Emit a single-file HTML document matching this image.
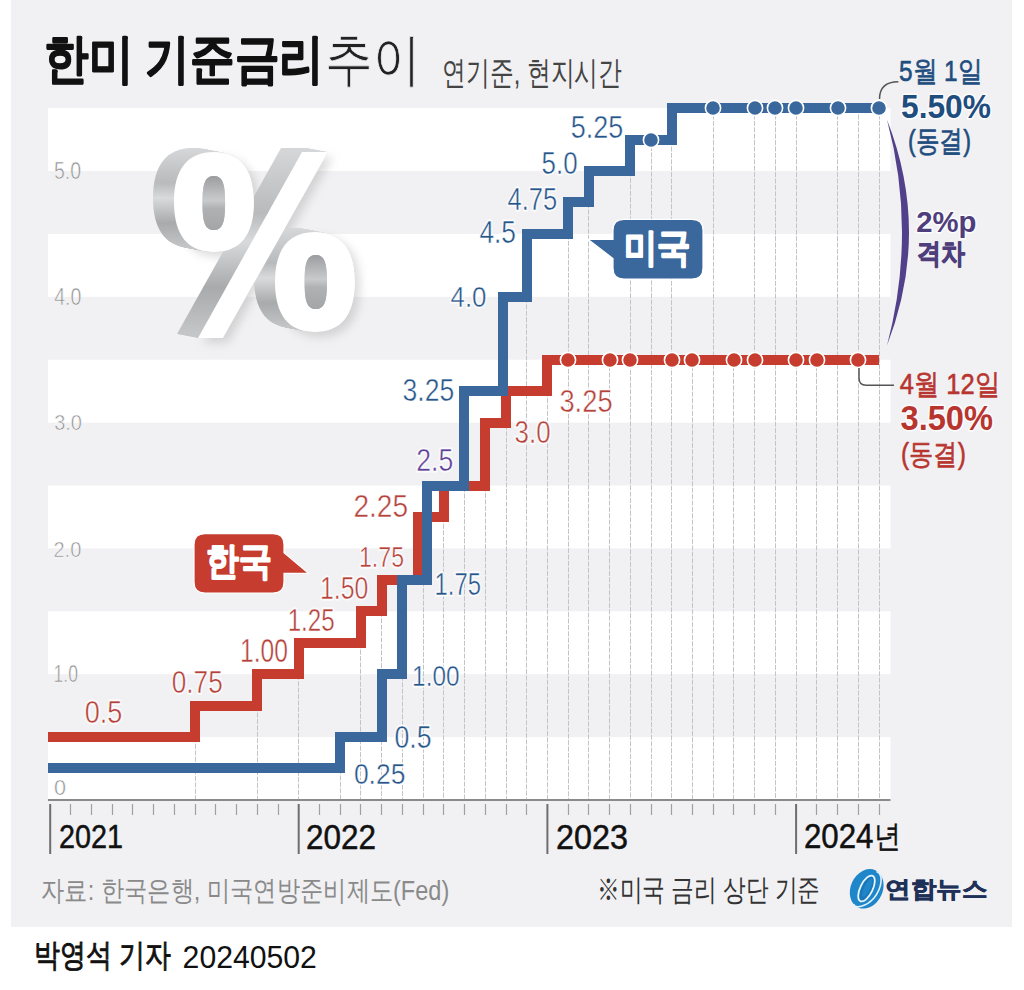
<!DOCTYPE html>
<html><head><meta charset="utf-8">
<style>
html,body{margin:0;padding:0;background:#fff;}
body{width:1024px;height:990px;position:relative;overflow:hidden;font-family:"Liberation Sans",sans-serif;}
svg{position:absolute;left:0;top:0;}
text{font-family:"Liberation Sans",sans-serif;}
.thk{stroke:#111;stroke-width:1.2px;stroke-linejoin:round}.thkw{stroke:#fff;stroke-width:1.6px;stroke-linejoin:round}.thkn{stroke:#1f3158;stroke-width:0.6px}.thkb{stroke:#111;stroke-width:0.5px}.thn{stroke:#f1f1f3;stroke-width:0.8px}
.halo{stroke:#fff;stroke-width:3px;stroke-linejoin:round;paint-order:stroke;stroke-opacity:0.85}
</style></head><body>
<svg width="1024" height="990" viewBox="0 0 1024 990">
<defs>
<linearGradient id="ext" x1="0" y1="0" x2="0" y2="1">
<stop offset="0" stop-color="#d6d7d9"/><stop offset="0.35" stop-color="#b9babc"/><stop offset="0.5" stop-color="#d9dadc"/><stop offset="0.75" stop-color="#a9aaac"/><stop offset="1" stop-color="#c5c6c8"/>
</linearGradient>
<filter id="blur" x="-20%" y="-20%" width="140%" height="140%"><feGaussianBlur stdDeviation="5"/></filter>
<linearGradient id="hole" x1="0" y1="0" x2="0" y2="1"><stop offset="0" stop-color="#9c9da0"/><stop offset="0.45" stop-color="#c9cacc"/><stop offset="0.6" stop-color="#b0b1b3"/><stop offset="1" stop-color="#a4a5a7"/></linearGradient>
</defs>
<!-- panel -->
<rect x="11" y="0" width="1001" height="927" fill="#f1f1f3"/>
<!-- stripes -->
<g fill="#ffffff">
<rect x="48" y="108.1" width="842.5" height="62.9"/>
<rect x="48" y="233.9" width="842.5" height="62.9"/>
<rect x="48" y="359.7" width="842.5" height="62.9"/>
<rect x="48" y="485.5" width="842.5" height="62.9"/>
<rect x="48" y="611.3" width="842.5" height="62.9"/>
<rect x="48" y="737.1" width="842.5" height="62.9"/>
</g>
<!-- y labels -->
<!-- big percent -->
<g id="pct">
<g filter="url(#blur)" opacity="0.35" transform="translate(5,5)" fill="#9a9a9a"><path d="M214.0,152.0 C240.4,152.0 254.0,169.0 254.0,202.0 C254.0,235.0 240.4,252.0 214.0,252.0 C187.6,252.0 174.0,235.0 174.0,202.0 C174.0,169.0 187.6,152.0 214.0,152.0Z"/><path d="M315.0,232.0 C341.4,232.0 355.0,249.0 355.0,282.0 C355.0,315.0 341.4,332.0 315.0,332.0 C288.6,332.0 275.0,315.0 275.0,282.0 C275.0,249.0 288.6,232.0 315.0,232.0Z"/><path d="M302,152 L328,152 L223,338 L198,338 Z"/></g>
<g fill="url(#ext)">
<g transform="translate(-0.00,-0.00)"><path d="M214.0,152.0 C240.4,152.0 254.0,169.0 254.0,202.0 C254.0,235.0 240.4,252.0 214.0,252.0 C187.6,252.0 174.0,235.0 174.0,202.0 C174.0,169.0 187.6,152.0 214.0,152.0Z"/><path d="M315.0,232.0 C341.4,232.0 355.0,249.0 355.0,282.0 C355.0,315.0 341.4,332.0 315.0,332.0 C288.6,332.0 275.0,315.0 275.0,282.0 C275.0,249.0 288.6,232.0 315.0,232.0Z"/><path d="M302,152 L328,152 L223,338 L198,338 Z"/></g>
<g transform="translate(-0.95,-0.18)"><path d="M214.0,152.0 C240.4,152.0 254.0,169.0 254.0,202.0 C254.0,235.0 240.4,252.0 214.0,252.0 C187.6,252.0 174.0,235.0 174.0,202.0 C174.0,169.0 187.6,152.0 214.0,152.0Z"/><path d="M315.0,232.0 C341.4,232.0 355.0,249.0 355.0,282.0 C355.0,315.0 341.4,332.0 315.0,332.0 C288.6,332.0 275.0,315.0 275.0,282.0 C275.0,249.0 288.6,232.0 315.0,232.0Z"/><path d="M302,152 L328,152 L223,338 L198,338 Z"/></g>
<g transform="translate(-1.91,-0.36)"><path d="M214.0,152.0 C240.4,152.0 254.0,169.0 254.0,202.0 C254.0,235.0 240.4,252.0 214.0,252.0 C187.6,252.0 174.0,235.0 174.0,202.0 C174.0,169.0 187.6,152.0 214.0,152.0Z"/><path d="M315.0,232.0 C341.4,232.0 355.0,249.0 355.0,282.0 C355.0,315.0 341.4,332.0 315.0,332.0 C288.6,332.0 275.0,315.0 275.0,282.0 C275.0,249.0 288.6,232.0 315.0,232.0Z"/><path d="M302,152 L328,152 L223,338 L198,338 Z"/></g>
<g transform="translate(-2.86,-0.55)"><path d="M214.0,152.0 C240.4,152.0 254.0,169.0 254.0,202.0 C254.0,235.0 240.4,252.0 214.0,252.0 C187.6,252.0 174.0,235.0 174.0,202.0 C174.0,169.0 187.6,152.0 214.0,152.0Z"/><path d="M315.0,232.0 C341.4,232.0 355.0,249.0 355.0,282.0 C355.0,315.0 341.4,332.0 315.0,332.0 C288.6,332.0 275.0,315.0 275.0,282.0 C275.0,249.0 288.6,232.0 315.0,232.0Z"/><path d="M302,152 L328,152 L223,338 L198,338 Z"/></g>
<g transform="translate(-3.82,-0.73)"><path d="M214.0,152.0 C240.4,152.0 254.0,169.0 254.0,202.0 C254.0,235.0 240.4,252.0 214.0,252.0 C187.6,252.0 174.0,235.0 174.0,202.0 C174.0,169.0 187.6,152.0 214.0,152.0Z"/><path d="M315.0,232.0 C341.4,232.0 355.0,249.0 355.0,282.0 C355.0,315.0 341.4,332.0 315.0,332.0 C288.6,332.0 275.0,315.0 275.0,282.0 C275.0,249.0 288.6,232.0 315.0,232.0Z"/><path d="M302,152 L328,152 L223,338 L198,338 Z"/></g>
<g transform="translate(-4.77,-0.91)"><path d="M214.0,152.0 C240.4,152.0 254.0,169.0 254.0,202.0 C254.0,235.0 240.4,252.0 214.0,252.0 C187.6,252.0 174.0,235.0 174.0,202.0 C174.0,169.0 187.6,152.0 214.0,152.0Z"/><path d="M315.0,232.0 C341.4,232.0 355.0,249.0 355.0,282.0 C355.0,315.0 341.4,332.0 315.0,332.0 C288.6,332.0 275.0,315.0 275.0,282.0 C275.0,249.0 288.6,232.0 315.0,232.0Z"/><path d="M302,152 L328,152 L223,338 L198,338 Z"/></g>
<g transform="translate(-5.73,-1.09)"><path d="M214.0,152.0 C240.4,152.0 254.0,169.0 254.0,202.0 C254.0,235.0 240.4,252.0 214.0,252.0 C187.6,252.0 174.0,235.0 174.0,202.0 C174.0,169.0 187.6,152.0 214.0,152.0Z"/><path d="M315.0,232.0 C341.4,232.0 355.0,249.0 355.0,282.0 C355.0,315.0 341.4,332.0 315.0,332.0 C288.6,332.0 275.0,315.0 275.0,282.0 C275.0,249.0 288.6,232.0 315.0,232.0Z"/><path d="M302,152 L328,152 L223,338 L198,338 Z"/></g>
<g transform="translate(-6.68,-1.27)"><path d="M214.0,152.0 C240.4,152.0 254.0,169.0 254.0,202.0 C254.0,235.0 240.4,252.0 214.0,252.0 C187.6,252.0 174.0,235.0 174.0,202.0 C174.0,169.0 187.6,152.0 214.0,152.0Z"/><path d="M315.0,232.0 C341.4,232.0 355.0,249.0 355.0,282.0 C355.0,315.0 341.4,332.0 315.0,332.0 C288.6,332.0 275.0,315.0 275.0,282.0 C275.0,249.0 288.6,232.0 315.0,232.0Z"/><path d="M302,152 L328,152 L223,338 L198,338 Z"/></g>
<g transform="translate(-7.64,-1.45)"><path d="M214.0,152.0 C240.4,152.0 254.0,169.0 254.0,202.0 C254.0,235.0 240.4,252.0 214.0,252.0 C187.6,252.0 174.0,235.0 174.0,202.0 C174.0,169.0 187.6,152.0 214.0,152.0Z"/><path d="M315.0,232.0 C341.4,232.0 355.0,249.0 355.0,282.0 C355.0,315.0 341.4,332.0 315.0,332.0 C288.6,332.0 275.0,315.0 275.0,282.0 C275.0,249.0 288.6,232.0 315.0,232.0Z"/><path d="M302,152 L328,152 L223,338 L198,338 Z"/></g>
<g transform="translate(-8.59,-1.64)"><path d="M214.0,152.0 C240.4,152.0 254.0,169.0 254.0,202.0 C254.0,235.0 240.4,252.0 214.0,252.0 C187.6,252.0 174.0,235.0 174.0,202.0 C174.0,169.0 187.6,152.0 214.0,152.0Z"/><path d="M315.0,232.0 C341.4,232.0 355.0,249.0 355.0,282.0 C355.0,315.0 341.4,332.0 315.0,332.0 C288.6,332.0 275.0,315.0 275.0,282.0 C275.0,249.0 288.6,232.0 315.0,232.0Z"/><path d="M302,152 L328,152 L223,338 L198,338 Z"/></g>
<g transform="translate(-9.55,-1.82)"><path d="M214.0,152.0 C240.4,152.0 254.0,169.0 254.0,202.0 C254.0,235.0 240.4,252.0 214.0,252.0 C187.6,252.0 174.0,235.0 174.0,202.0 C174.0,169.0 187.6,152.0 214.0,152.0Z"/><path d="M315.0,232.0 C341.4,232.0 355.0,249.0 355.0,282.0 C355.0,315.0 341.4,332.0 315.0,332.0 C288.6,332.0 275.0,315.0 275.0,282.0 C275.0,249.0 288.6,232.0 315.0,232.0Z"/><path d="M302,152 L328,152 L223,338 L198,338 Z"/></g>
<g transform="translate(-10.50,-2.00)"><path d="M214.0,152.0 C240.4,152.0 254.0,169.0 254.0,202.0 C254.0,235.0 240.4,252.0 214.0,252.0 C187.6,252.0 174.0,235.0 174.0,202.0 C174.0,169.0 187.6,152.0 214.0,152.0Z"/><path d="M315.0,232.0 C341.4,232.0 355.0,249.0 355.0,282.0 C355.0,315.0 341.4,332.0 315.0,332.0 C288.6,332.0 275.0,315.0 275.0,282.0 C275.0,249.0 288.6,232.0 315.0,232.0Z"/><path d="M302,152 L328,152 L223,338 L198,338 Z"/></g>
<g transform="translate(-11.45,-2.18)"><path d="M214.0,152.0 C240.4,152.0 254.0,169.0 254.0,202.0 C254.0,235.0 240.4,252.0 214.0,252.0 C187.6,252.0 174.0,235.0 174.0,202.0 C174.0,169.0 187.6,152.0 214.0,152.0Z"/><path d="M315.0,232.0 C341.4,232.0 355.0,249.0 355.0,282.0 C355.0,315.0 341.4,332.0 315.0,332.0 C288.6,332.0 275.0,315.0 275.0,282.0 C275.0,249.0 288.6,232.0 315.0,232.0Z"/><path d="M302,152 L328,152 L223,338 L198,338 Z"/></g>
<g transform="translate(-12.41,-2.36)"><path d="M214.0,152.0 C240.4,152.0 254.0,169.0 254.0,202.0 C254.0,235.0 240.4,252.0 214.0,252.0 C187.6,252.0 174.0,235.0 174.0,202.0 C174.0,169.0 187.6,152.0 214.0,152.0Z"/><path d="M315.0,232.0 C341.4,232.0 355.0,249.0 355.0,282.0 C355.0,315.0 341.4,332.0 315.0,332.0 C288.6,332.0 275.0,315.0 275.0,282.0 C275.0,249.0 288.6,232.0 315.0,232.0Z"/><path d="M302,152 L328,152 L223,338 L198,338 Z"/></g>
<g transform="translate(-13.36,-2.55)"><path d="M214.0,152.0 C240.4,152.0 254.0,169.0 254.0,202.0 C254.0,235.0 240.4,252.0 214.0,252.0 C187.6,252.0 174.0,235.0 174.0,202.0 C174.0,169.0 187.6,152.0 214.0,152.0Z"/><path d="M315.0,232.0 C341.4,232.0 355.0,249.0 355.0,282.0 C355.0,315.0 341.4,332.0 315.0,332.0 C288.6,332.0 275.0,315.0 275.0,282.0 C275.0,249.0 288.6,232.0 315.0,232.0Z"/><path d="M302,152 L328,152 L223,338 L198,338 Z"/></g>
<g transform="translate(-14.32,-2.73)"><path d="M214.0,152.0 C240.4,152.0 254.0,169.0 254.0,202.0 C254.0,235.0 240.4,252.0 214.0,252.0 C187.6,252.0 174.0,235.0 174.0,202.0 C174.0,169.0 187.6,152.0 214.0,152.0Z"/><path d="M315.0,232.0 C341.4,232.0 355.0,249.0 355.0,282.0 C355.0,315.0 341.4,332.0 315.0,332.0 C288.6,332.0 275.0,315.0 275.0,282.0 C275.0,249.0 288.6,232.0 315.0,232.0Z"/><path d="M302,152 L328,152 L223,338 L198,338 Z"/></g>
<g transform="translate(-15.27,-2.91)"><path d="M214.0,152.0 C240.4,152.0 254.0,169.0 254.0,202.0 C254.0,235.0 240.4,252.0 214.0,252.0 C187.6,252.0 174.0,235.0 174.0,202.0 C174.0,169.0 187.6,152.0 214.0,152.0Z"/><path d="M315.0,232.0 C341.4,232.0 355.0,249.0 355.0,282.0 C355.0,315.0 341.4,332.0 315.0,332.0 C288.6,332.0 275.0,315.0 275.0,282.0 C275.0,249.0 288.6,232.0 315.0,232.0Z"/><path d="M302,152 L328,152 L223,338 L198,338 Z"/></g>
<g transform="translate(-16.23,-3.09)"><path d="M214.0,152.0 C240.4,152.0 254.0,169.0 254.0,202.0 C254.0,235.0 240.4,252.0 214.0,252.0 C187.6,252.0 174.0,235.0 174.0,202.0 C174.0,169.0 187.6,152.0 214.0,152.0Z"/><path d="M315.0,232.0 C341.4,232.0 355.0,249.0 355.0,282.0 C355.0,315.0 341.4,332.0 315.0,332.0 C288.6,332.0 275.0,315.0 275.0,282.0 C275.0,249.0 288.6,232.0 315.0,232.0Z"/><path d="M302,152 L328,152 L223,338 L198,338 Z"/></g>
<g transform="translate(-17.18,-3.27)"><path d="M214.0,152.0 C240.4,152.0 254.0,169.0 254.0,202.0 C254.0,235.0 240.4,252.0 214.0,252.0 C187.6,252.0 174.0,235.0 174.0,202.0 C174.0,169.0 187.6,152.0 214.0,152.0Z"/><path d="M315.0,232.0 C341.4,232.0 355.0,249.0 355.0,282.0 C355.0,315.0 341.4,332.0 315.0,332.0 C288.6,332.0 275.0,315.0 275.0,282.0 C275.0,249.0 288.6,232.0 315.0,232.0Z"/><path d="M302,152 L328,152 L223,338 L198,338 Z"/></g>
<g transform="translate(-18.14,-3.45)"><path d="M214.0,152.0 C240.4,152.0 254.0,169.0 254.0,202.0 C254.0,235.0 240.4,252.0 214.0,252.0 C187.6,252.0 174.0,235.0 174.0,202.0 C174.0,169.0 187.6,152.0 214.0,152.0Z"/><path d="M315.0,232.0 C341.4,232.0 355.0,249.0 355.0,282.0 C355.0,315.0 341.4,332.0 315.0,332.0 C288.6,332.0 275.0,315.0 275.0,282.0 C275.0,249.0 288.6,232.0 315.0,232.0Z"/><path d="M302,152 L328,152 L223,338 L198,338 Z"/></g>
<g transform="translate(-19.09,-3.64)"><path d="M214.0,152.0 C240.4,152.0 254.0,169.0 254.0,202.0 C254.0,235.0 240.4,252.0 214.0,252.0 C187.6,252.0 174.0,235.0 174.0,202.0 C174.0,169.0 187.6,152.0 214.0,152.0Z"/><path d="M315.0,232.0 C341.4,232.0 355.0,249.0 355.0,282.0 C355.0,315.0 341.4,332.0 315.0,332.0 C288.6,332.0 275.0,315.0 275.0,282.0 C275.0,249.0 288.6,232.0 315.0,232.0Z"/><path d="M302,152 L328,152 L223,338 L198,338 Z"/></g>
<g transform="translate(-20.05,-3.82)"><path d="M214.0,152.0 C240.4,152.0 254.0,169.0 254.0,202.0 C254.0,235.0 240.4,252.0 214.0,252.0 C187.6,252.0 174.0,235.0 174.0,202.0 C174.0,169.0 187.6,152.0 214.0,152.0Z"/><path d="M315.0,232.0 C341.4,232.0 355.0,249.0 355.0,282.0 C355.0,315.0 341.4,332.0 315.0,332.0 C288.6,332.0 275.0,315.0 275.0,282.0 C275.0,249.0 288.6,232.0 315.0,232.0Z"/><path d="M302,152 L328,152 L223,338 L198,338 Z"/></g>
<g transform="translate(-21.00,-4.00)"><path d="M214.0,152.0 C240.4,152.0 254.0,169.0 254.0,202.0 C254.0,235.0 240.4,252.0 214.0,252.0 C187.6,252.0 174.0,235.0 174.0,202.0 C174.0,169.0 187.6,152.0 214.0,152.0Z"/><path d="M315.0,232.0 C341.4,232.0 355.0,249.0 355.0,282.0 C355.0,315.0 341.4,332.0 315.0,332.0 C288.6,332.0 275.0,315.0 275.0,282.0 C275.0,249.0 288.6,232.0 315.0,232.0Z"/><path d="M302,152 L328,152 L223,338 L198,338 Z"/></g>
</g>
<path fill="#fff" fill-rule="evenodd" d="M214.0,152.0 C240.4,152.0 254.0,169.0 254.0,202.0 C254.0,235.0 240.4,252.0 214.0,252.0 C187.6,252.0 174.0,235.0 174.0,202.0 C174.0,169.0 187.6,152.0 214.0,152.0Z M213.8,176.0 C222.3,176.0 225.1,182.8 225.1,203.0 C225.1,223.2 222.3,230.0 213.8,230.0 C205.3,230.0 202.5,223.2 202.5,203.0 C202.5,182.8 205.3,176.0 213.8,176.0Z"/>
<path fill="#fff" fill-rule="evenodd" d="M315.0,232.0 C341.4,232.0 355.0,249.0 355.0,282.0 C355.0,315.0 341.4,332.0 315.0,332.0 C288.6,332.0 275.0,315.0 275.0,282.0 C275.0,249.0 288.6,232.0 315.0,232.0Z M315.8,255.0 C324.2,255.0 327.0,261.8 327.0,282.0 C327.0,302.2 324.2,309.0 315.8,309.0 C307.4,309.0 304.6,302.2 304.6,282.0 C304.6,261.8 307.4,255.0 315.8,255.0Z"/>
<path fill="#fff" d="M302,152 L328,152 L223,338 L198,338 Z"/>
<path fill="url(#hole)" d="M213.8,176.0 C222.3,176.0 225.1,182.8 225.1,203.0 C225.1,223.2 222.3,230.0 213.8,230.0 C205.3,230.0 202.5,223.2 202.5,203.0 C202.5,182.8 205.3,176.0 213.8,176.0Z"/>
<path fill="url(#hole)" d="M315.8,255.0 C324.2,255.0 327.0,261.8 327.0,282.0 C327.0,302.2 324.2,309.0 315.8,309.0 C307.4,309.0 304.6,302.2 304.6,282.0 C304.6,261.8 307.4,255.0 315.8,255.0Z"/>
</g>
<!-- gridlines -->
<path d="M195.5,705.6V800 M257.5,674.2V800 M298.5,642.8V800 M340.5,737.1V800 M360.5,611.3V800 M381.5,579.9V800 M402.5,579.9V800 M423.5,485.5V800 M443.5,485.5V800 M464.5,391.2V800 M485.5,422.6V800 M506.5,296.8V800 M526.5,233.9V800 M547.5,359.7V800 M568.5,202.5V800 M588.5,171.0V800 M609.5,359.7V800 M630.5,139.6V800 M651.5,139.6V800 M671.5,108.1V800 M692.5,359.7V800 M713.5,108.1V800 M733.5,359.7V800 M754.5,108.1V800 M775.5,108.1V800 M796.5,108.1V800 M816.5,359.7V800 M837.5,108.1V800 M858.5,108.1V800 M879.5,108.1V800" stroke="#c4c4c8" stroke-width="1" stroke-dasharray="5 1.4" fill="none"/>
<!-- axis -->
<path d="M48,800H890.5" stroke="#8a8a8a" stroke-width="2" fill="none"/>
<path d="M70.5,804V815 M91.5,804V815 M112.5,804V815 M132.5,804V815 M153.5,804V815 M174.5,804V815 M195.5,804V815 M215.5,804V815 M236.5,804V815 M257.5,804V815 M278.5,804V815 M319.5,804V815 M340.5,804V815 M360.5,804V815 M381.5,804V815 M402.5,804V815 M423.5,804V815 M443.5,804V815 M464.5,804V815 M485.5,804V815 M506.5,804V815 M526.5,804V815 M568.5,804V815 M588.5,804V815 M609.5,804V815 M630.5,804V815 M651.5,804V815 M671.5,804V815 M692.5,804V815 M713.5,804V815 M733.5,804V815 M754.5,804V815 M775.5,804V815 M816.5,804V815 M837.5,804V815 M858.5,804V815 M879.5,804V815" stroke="#a0a0a0" stroke-width="1.2" fill="none"/>
<path d="M50.2,804V854 M298.7,804V854 M547.4,804V854 M796.1,804V854" stroke="#6e6e6e" stroke-width="2" fill="none"/>
<!-- lines -->
<path d="M48,737 H195 V706 H257 V674 H299 V643 H361 V611 H382 V580 H418 V517 H444 V486 H485 V423 H506 V391 H547 V360 H879" stroke="#c63c2e" stroke-width="10" fill="none" stroke-linejoin="miter"/>
<path d="M48,768 H340 V737 H382 V674 H402 V580 H427 V486 H464 V391 H503 V297 H527 V234 H568 V202 H589 V171 H630 V140 H672 V108 H879" stroke="#3a679c" stroke-width="10" fill="none" stroke-linejoin="miter"/>
<!-- dots -->
<g fill="#c63c2e" stroke="#fff" stroke-width="1.6">
<circle cx="568" cy="360" r="7.6"/><circle cx="610" cy="360" r="7.6"/><circle cx="630" cy="360" r="7.6"/><circle cx="672" cy="360" r="7.6"/><circle cx="692" cy="360" r="7.6"/><circle cx="734" cy="360" r="7.6"/><circle cx="755" cy="360" r="7.6"/><circle cx="796" cy="360" r="7.6"/><circle cx="817" cy="360" r="7.6"/><circle cx="858" cy="360" r="7.6"/>
</g>
<g fill="#3a679c" stroke="#fff" stroke-width="1.6">
<circle cx="651" cy="140" r="7.6"/><circle cx="713" cy="108" r="7.6"/><circle cx="755" cy="108" r="7.6"/><circle cx="775" cy="108" r="7.6"/><circle cx="796" cy="108" r="7.6"/><circle cx="838" cy="108" r="7.6"/><circle cx="879" cy="108" r="7.6"/>
</g>
<!-- value labels red -->
<!-- bubbles -->
<g id="bubbles">
<path d="M624,219.3 H692 Q703,219.3 703,230.3 V268 Q703,279 692,279 H624 Q613,279 613,268 V258.5 L588.2,239.4 H613 V230.3 Q613,219.3 624,219.3 Z" fill="#3a679c" stroke="#fff" stroke-width="1.2"/>
<path d="M205,533.7 H273 Q284,533.7 284,544.7 V552.8 L308.5,573.3 H284 V582 Q284,593 273,593 H205 Q194,593 194,582 V544.7 Q194,533.7 205,533.7 Z" fill="#c63c2e" stroke="#fff" stroke-width="1.2"/>
</g>
<!-- right annotations -->
<path d="M879.5,99 C879.5,88 886,81.7 898.4,81.7" stroke="#555" stroke-width="1.5" fill="none"/>
<path d="M859,368 V378 Q859,385.2 866,385.2 H894" stroke="#555" stroke-width="1.5" fill="none"/>
<path d="M887,119.7 Q931,232 887,345.4 Q917,232 887,119.7 Z" fill="#52418a"/>
<!-- title -->
<!-- footer -->
<g id="logo">
<ellipse cx="866.7" cy="888.8" rx="20.5" ry="16" transform="rotate(-65 866.7 888.8)" fill="#1f87c9"/>
<path d="M876.5,871.5 C884,874 882,888 874,898 C866,907 855,909 853.5,904" fill="none" stroke="#dff1fc" stroke-width="1.6"/>
<ellipse cx="866.5" cy="888.5" rx="14" ry="6.2" transform="rotate(-64 866.5 888.5)" fill="#1a78b8" stroke="#e8f6ff" stroke-width="1.8"/>
<ellipse cx="867.3" cy="887.8" rx="10" ry="3" transform="rotate(-64 867.3 887.8)" fill="#1f87c9"/>
</g>
<text id="title" x="44.00" y="77.47" fill="#111" font-size="52.85" font-weight="900" class="thk" textLength="279.80" lengthAdjust="spacingAndGlyphs">한미 기준금리</text>
<text id="chui" x="325.20" y="78.87" fill="#222" font-size="56.99" font-weight="300" class="thn" textLength="95.40" lengthAdjust="spacingAndGlyphs">추이</text>
<text id="sub" x="442.30" y="83.78" fill="#444" font-size="32.91" textLength="179.80" lengthAdjust="spacingAndGlyphs">연기준, 현지시간</text>
<defs><text id="y50" x="53.90" y="179.31" font-size="24.54" textLength="27.10" lengthAdjust="spacingAndGlyphs">5.0</text></defs>
<use href="#y50" fill="#8e8e8e"/>
<use href="#y50" fill="none" stroke="#f9f9fa" stroke-width="0.6"/>
<defs><text id="y40" x="54.20" y="304.76" font-size="23.91" textLength="27.20" lengthAdjust="spacingAndGlyphs">4.0</text></defs>
<use href="#y40" fill="#8e8e8e"/>
<use href="#y40" fill="none" stroke="#f9f9fa" stroke-width="0.6"/>
<defs><text id="y30" x="54.20" y="430.07" font-size="22.63" textLength="27.80" lengthAdjust="spacingAndGlyphs">3.0</text></defs>
<use href="#y30" fill="#8e8e8e"/>
<use href="#y30" fill="none" stroke="#f9f9fa" stroke-width="0.6"/>
<defs><text id="y20" x="53.50" y="557.16" font-size="22.63" textLength="27.80" lengthAdjust="spacingAndGlyphs">2.0</text></defs>
<use href="#y20" fill="#8e8e8e"/>
<use href="#y20" fill="none" stroke="#f9f9fa" stroke-width="0.6"/>
<defs><text id="y10" x="53.50" y="682.25" font-size="23.91" textLength="24.50" lengthAdjust="spacingAndGlyphs">1.0</text></defs>
<use href="#y10" fill="#8e8e8e"/>
<use href="#y10" fill="none" stroke="#f9f9fa" stroke-width="0.6"/>
<defs><text id="y0" x="54.00" y="795.18" font-size="22.63" textLength="12.00" lengthAdjust="spacingAndGlyphs">0</text></defs>
<use href="#y0" fill="#8e8e8e"/>
<use href="#y0" fill="none" stroke="#f9f9fa" stroke-width="0.6"/>
<text id="yr21" x="59.00" y="847.99" fill="#111" font-size="33.88" style="stroke:#111;stroke-width:0.5px;stroke-linejoin:round" textLength="64.00" lengthAdjust="spacingAndGlyphs">2021</text>
<text id="yr22" x="306.00" y="848.99" fill="#111" font-size="35.30" style="stroke:#111;stroke-width:0.5px;stroke-linejoin:round" textLength="70.00" lengthAdjust="spacingAndGlyphs">2022</text>
<text id="yr23" x="556.00" y="848.99" fill="#111" font-size="35.30" style="stroke:#111;stroke-width:0.5px;stroke-linejoin:round" textLength="72.00" lengthAdjust="spacingAndGlyphs">2023</text>
<text id="yr24" x="803.90" y="848.38" fill="#111" font-size="34.94" style="stroke:#111;stroke-width:0.5px;stroke-linejoin:round" textLength="69.60" lengthAdjust="spacingAndGlyphs">2024</text>
<text id="yr24n" x="874.00" y="846.64" fill="#111" font-size="30.61" style="stroke:#111;stroke-width:0.4px;stroke-linejoin:round" textLength="26.90" lengthAdjust="spacingAndGlyphs">년</text>
<defs><text id="r05" x="84.80" y="723.35" font-size="30.79" textLength="37.60" lengthAdjust="spacingAndGlyphs">0.5</text></defs>
<use href="#r05" fill="#b4413a" class="halo"/>
<use href="#r05" fill="none" stroke="#fff" stroke-width="0.45"/>
<defs><text id="r075" x="171.80" y="692.63" font-size="30.58" textLength="50.90" lengthAdjust="spacingAndGlyphs">0.75</text></defs>
<use href="#r075" fill="#b4413a" class="halo"/>
<use href="#r075" fill="none" stroke="#fff" stroke-width="0.45"/>
<defs><text id="r100" x="240.00" y="661.96" font-size="32.58" textLength="47.90" lengthAdjust="spacingAndGlyphs">1.00</text></defs>
<use href="#r100" fill="#b4413a" class="halo"/>
<use href="#r100" fill="none" stroke="#fff" stroke-width="0.45"/>
<defs><text id="r125" x="287.70" y="630.82" font-size="31.82" textLength="47.00" lengthAdjust="spacingAndGlyphs">1.25</text></defs>
<use href="#r125" fill="#b4413a" class="halo"/>
<use href="#r125" fill="none" stroke="#fff" stroke-width="0.45"/>
<defs><text id="r150" x="320.00" y="598.69" font-size="30.44" textLength="48.30" lengthAdjust="spacingAndGlyphs">1.50</text></defs>
<use href="#r150" fill="#b4413a" class="halo"/>
<use href="#r150" fill="none" stroke="#fff" stroke-width="0.45"/>
<defs><text id="r175" x="359.00" y="567.00" font-size="28.63" textLength="45.00" lengthAdjust="spacingAndGlyphs">1.75</text></defs>
<use href="#r175" fill="#b4413a" class="halo"/>
<use href="#r175" fill="none" stroke="#fff" stroke-width="0.45"/>
<defs><text id="r225" x="353.40" y="516.69" font-size="30.44" textLength="54.60" lengthAdjust="spacingAndGlyphs">2.25</text></defs>
<use href="#r225" fill="#b4413a" class="halo"/>
<use href="#r225" fill="none" stroke="#fff" stroke-width="0.45"/>
<defs><text id="r30" x="514.60" y="443.49" font-size="30.44" textLength="36.00" lengthAdjust="spacingAndGlyphs">3.0</text></defs>
<use href="#r30" fill="#b4413a" class="halo"/>
<use href="#r30" fill="none" stroke="#fff" stroke-width="0.45"/>
<defs><text id="r325" x="559.40" y="412.44" font-size="30.53" textLength="53.20" lengthAdjust="spacingAndGlyphs">3.25</text></defs>
<use href="#r325" fill="#b4413a" class="halo"/>
<use href="#r325" fill="none" stroke="#fff" stroke-width="0.45"/>
<defs><text id="p25" x="416.20" y="471.43" font-size="31.82" textLength="37.00" lengthAdjust="spacingAndGlyphs">2.5</text></defs>
<use href="#p25" fill="#5e3f95" class="halo"/>
<use href="#p25" fill="none" stroke="#fff" stroke-width="0.45"/>
<defs><text id="b025" x="353.90" y="784.00" font-size="29.90" textLength="51.50" lengthAdjust="spacingAndGlyphs">0.25</text></defs>
<use href="#b025" fill="#26558a" class="halo"/>
<use href="#b025" fill="none" stroke="#fff" stroke-width="0.45"/>
<defs><text id="b05" x="394.40" y="748.18" font-size="31.82" textLength="37.10" lengthAdjust="spacingAndGlyphs">0.5</text></defs>
<use href="#b05" fill="#26558a" class="halo"/>
<use href="#b05" fill="none" stroke="#fff" stroke-width="0.45"/>
<defs><text id="b100" x="412.10" y="686.00" font-size="29.90" textLength="47.50" lengthAdjust="spacingAndGlyphs">1.00</text></defs>
<use href="#b100" fill="#26558a" class="halo"/>
<use href="#b100" fill="none" stroke="#fff" stroke-width="0.45"/>
<defs><text id="b175" x="434.50" y="594.83" font-size="30.89" textLength="46.50" lengthAdjust="spacingAndGlyphs">1.75</text></defs>
<use href="#b175" fill="#26558a" class="halo"/>
<use href="#b175" fill="none" stroke="#fff" stroke-width="0.45"/>
<defs><text id="b325" x="402.60" y="401.43" font-size="31.82" textLength="51.60" lengthAdjust="spacingAndGlyphs">3.25</text></defs>
<use href="#b325" fill="#26558a" class="halo"/>
<use href="#b325" fill="none" stroke="#fff" stroke-width="0.45"/>
<defs><text id="b40" x="450.50" y="307.00" font-size="29.65" textLength="36.00" lengthAdjust="spacingAndGlyphs">4.0</text></defs>
<use href="#b40" fill="#26558a" class="halo"/>
<use href="#b40" fill="none" stroke="#fff" stroke-width="0.45"/>
<defs><text id="b45" x="479.40" y="242.82" font-size="31.82" textLength="36.60" lengthAdjust="spacingAndGlyphs">4.5</text></defs>
<use href="#b45" fill="#26558a" class="halo"/>
<use href="#b45" fill="none" stroke="#fff" stroke-width="0.45"/>
<defs><text id="b475" x="507.50" y="209.71" font-size="31.82" textLength="49.70" lengthAdjust="spacingAndGlyphs">4.75</text></defs>
<use href="#b475" fill="#26558a" class="halo"/>
<use href="#b475" fill="none" stroke="#fff" stroke-width="0.45"/>
<defs><text id="b50" x="541.60" y="173.84" font-size="30.64" textLength="36.00" lengthAdjust="spacingAndGlyphs">5.0</text></defs>
<use href="#b50" fill="#26558a" class="halo"/>
<use href="#b50" fill="none" stroke="#fff" stroke-width="0.45"/>
<defs><text id="b525" x="570.70" y="137.82" font-size="31.82" textLength="52.50" lengthAdjust="spacingAndGlyphs">5.25</text></defs>
<use href="#b525" fill="#26558a" class="halo"/>
<use href="#b525" fill="none" stroke="#fff" stroke-width="0.45"/>
<text id="usb" x="623.80" y="261.08" fill="#fff" font-size="38.91" font-weight="900" class="thkw" textLength="66.60" lengthAdjust="spacingAndGlyphs">미국</text>
<text id="krb" x="205.80" y="573.98" fill="#fff" font-size="37.69" font-weight="900" class="thkw" textLength="65.60" lengthAdjust="spacingAndGlyphs">한국</text>
<text id="may1" x="899.00" y="80.58" fill="#1f4d7e" font-size="28.62" font-weight="500" style="stroke:#1f4d7e;stroke-width:0.6px;stroke-linejoin:round" textLength="83.40" lengthAdjust="spacingAndGlyphs">5월 1일</text>
<text id="us550" x="901.00" y="118.40" fill="#1f4d7e" font-size="33.57" font-weight="bold" class="halo" textLength="90.00" lengthAdjust="spacingAndGlyphs">5.50%</text>
<text id="usfrz" x="908.00" y="151.27" fill="#1f4d7e" font-size="29.66" font-weight="500" style="stroke:#1f4d7e;stroke-width:0.6px;stroke-linejoin:round" textLength="63.00" lengthAdjust="spacingAndGlyphs">(동결)</text>
<text id="gap1" x="916.20" y="232.02" fill="#4f3e7c" font-size="29.83" font-weight="bold" class="halo" textLength="60.20" lengthAdjust="spacingAndGlyphs">2%p</text>
<text id="gap2" x="917.00" y="262.96" fill="#4f3e7c" font-size="28.37" font-weight="bold" style="stroke:#4f3e7c;stroke-width:0.9px;stroke-linejoin:round" textLength="48.00" lengthAdjust="spacingAndGlyphs">격차</text>
<text id="apr12" x="899.80" y="393.68" fill="#b8352f" font-size="29.33" font-weight="500" style="stroke:#b8352f;stroke-width:0.6px;stroke-linejoin:round" textLength="100.20" lengthAdjust="spacingAndGlyphs">4월 12일</text>
<text id="kr350" x="900.50" y="430.44" fill="#b8352f" font-size="34.98" font-weight="bold" class="halo" textLength="92.50" lengthAdjust="spacingAndGlyphs">3.50%</text>
<text id="krfrz" x="901.00" y="464.02" fill="#b8352f" font-size="29.32" font-weight="500" style="stroke:#b8352f;stroke-width:0.6px;stroke-linejoin:round" textLength="64.80" lengthAdjust="spacingAndGlyphs">(동결)</text>
<text id="src" x="41.20" y="900.00" fill="#8a8a8a" font-size="28.35" textLength="408.10" lengthAdjust="spacingAndGlyphs">자료: 한국은행, 미국연방준비제도(Fed)</text>
<text id="note" x="597.00" y="899.93" fill="#333" font-size="29.61" textLength="223.00" lengthAdjust="spacingAndGlyphs">※미국 금리 상단 기준</text>
<text id="logo" x="885.00" y="897.11" fill="#1f3158" font-size="23.15" font-weight="bold" class="thkn" textLength="102.00" lengthAdjust="spacingAndGlyphs">연합뉴스</text>
<text id="by" x="33.70" y="965.95" fill="#111" font-size="31.55" style="stroke:#111;stroke-width:0.9px;stroke-linejoin:round" textLength="137.10" lengthAdjust="spacingAndGlyphs">박영석 기자</text>
<text id="date" x="182.60" y="968.00" fill="#111" font-size="30.99" textLength="134.30" lengthAdjust="spacingAndGlyphs">20240502</text>
</svg>
</body></html>
